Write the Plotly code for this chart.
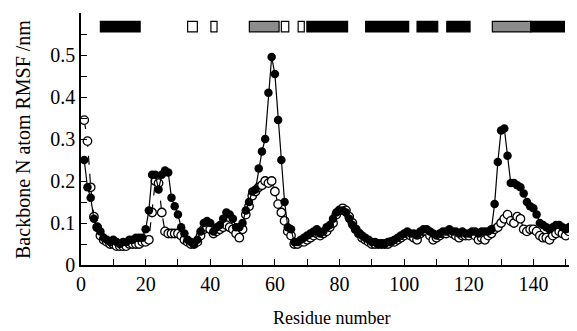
import plotly.graph_objects as go

residues = list(range(1, 153))

rmsf_filled = [
    0.25, 0.185, 0.16, 0.11, 0.09, 0.08, 0.065, 0.06, 0.055, 0.06,
    0.055, 0.05, 0.055, 0.055, 0.06, 0.06, 0.065, 0.065, 0.065, 0.085,
    0.13, 0.215, 0.215, 0.18, 0.215, 0.225, 0.22, 0.16, 0.14, 0.12,
    0.09, 0.075, 0.06, 0.055, 0.05, 0.06, 0.08, 0.1, 0.105, 0.1,
    0.08, 0.09, 0.095, 0.11, 0.125, 0.12, 0.11, 0.09, 0.09, 0.1,
    0.13, 0.15, 0.175, 0.18, 0.23, 0.27, 0.30, 0.41, 0.495, 0.455,
    0.345, 0.25, 0.15, 0.09, 0.085, 0.055, 0.055, 0.06, 0.065, 0.07,
    0.075, 0.08, 0.085, 0.075, 0.08, 0.09, 0.095, 0.11, 0.125, 0.13,
    0.13, 0.125, 0.11, 0.095, 0.085, 0.075, 0.07, 0.065, 0.06, 0.055,
    0.055, 0.05, 0.05, 0.05, 0.055, 0.055, 0.06, 0.065, 0.07, 0.075,
    0.08, 0.075, 0.075, 0.07, 0.08, 0.085, 0.085, 0.08, 0.075, 0.07,
    0.075, 0.08, 0.08, 0.085, 0.08, 0.08, 0.075, 0.08, 0.075, 0.075,
    0.08, 0.08, 0.075, 0.08, 0.08, 0.08, 0.085, 0.145, 0.245, 0.32,
    0.325, 0.26, 0.195, 0.195, 0.19, 0.185, 0.17, 0.15, 0.14, 0.135,
    0.12, 0.1, 0.095, 0.09, 0.085, 0.09, 0.095, 0.095, 0.09, 0.085,
    0.09, 0.095,
]

rmsf_open = [
    0.345, 0.295, 0.185, 0.115, 0.09, 0.07, 0.06, 0.055, 0.05, 0.05,
    0.045, 0.045, 0.045, 0.045, 0.05, 0.05, 0.05, 0.05, 0.055, 0.055,
    0.06, 0.125, 0.2, 0.195, 0.125, 0.08, 0.075, 0.075, 0.075, 0.075,
    0.07, 0.06, 0.055, 0.05, 0.05, 0.055, 0.07, 0.085, 0.09, 0.085,
    0.075, 0.08, 0.085, 0.09, 0.095, 0.09, 0.085, 0.075, 0.065, 0.085,
    0.12, 0.14, 0.165, 0.175, 0.185, 0.19, 0.2, 0.195, 0.2, 0.175,
    0.145, 0.125, 0.105, 0.08, 0.07, 0.05, 0.05, 0.055, 0.055, 0.06,
    0.065, 0.07, 0.075, 0.07, 0.075, 0.08, 0.09, 0.1, 0.12, 0.13,
    0.135, 0.13, 0.115, 0.1, 0.085, 0.075, 0.065, 0.06, 0.055, 0.05,
    0.05, 0.05, 0.05, 0.05, 0.05, 0.055, 0.055, 0.06, 0.065, 0.07,
    0.075, 0.07, 0.065, 0.06, 0.075, 0.08, 0.08, 0.07, 0.06, 0.065,
    0.07, 0.075, 0.075, 0.08, 0.075, 0.07, 0.065, 0.07, 0.07, 0.07,
    0.075, 0.07, 0.06, 0.065, 0.06, 0.07, 0.075, 0.085, 0.09, 0.1,
    0.11, 0.12, 0.105, 0.1, 0.115, 0.11, 0.085, 0.08, 0.085, 0.085,
    0.08, 0.07, 0.065, 0.065, 0.06, 0.07, 0.075, 0.08, 0.075, 0.07,
    0.08, 0.085,
]

# secondary-structure blocks: start, end, kind
ss_start = [6, 33, 40.2, 52.1, 62, 67.2, 69.9, 88.1, 104, 113.2, 127.3, 139.2]
ss_end = [18.3, 36, 42.1, 61.3, 64.3, 69.1, 82.5, 101.4, 110.4, 120.4, 139.2, 149.6]
ss_kind = ["helix", "open", "open", "gray", "open", "open", "helix", "helix",
           "helix", "helix", "gray", "helix"]
ss_y = [0.555, 0.58]

fill_map = {"helix": "black", "open": "white", "gray": "#8c8c8c"}

fig = go.Figure()

fig.add_trace(go.Scatter(
    x=residues, y=rmsf_open, mode="lines+markers",
    line=dict(color="black", width=1.2, dash="dash"),
    marker=dict(symbol="circle", size=8.5, color="white",
                line=dict(color="black", width=1.3)),
    showlegend=False,
))
fig.add_trace(go.Scatter(
    x=residues, y=rmsf_filled, mode="lines+markers",
    line=dict(color="black", width=1.2),
    marker=dict(symbol="circle", size=8.5, color="black",
                line=dict(color="black", width=0)),
    showlegend=False,
))

for s, e, k in zip(ss_start, ss_end, ss_kind):
    fig.add_shape(type="rect", xref="x", yref="y", x0=s, x1=e,
                  y0=ss_y[0], y1=ss_y[1], fillcolor=fill_map[k],
                  line=dict(color="black", width=1.2), layer="above")

font_family = "Liberation Serif, Times New Roman, serif"
# page body has an 8px default margin, so the figure is sized to fit the window
fig.update_layout(
    width=569, height=323,
    margin=dict(l=73, r=0, t=5, b=66, autoexpand=False),
    paper_bgcolor="white", plot_bgcolor="white",
    font=dict(family=font_family, size=20, color="black"),
    xaxis=dict(
        range=[0, 153.5], dtick=20, tick0=0,
        ticks="inside", ticklen=6, tickwidth=1, tickcolor="black",
        minor=dict(dtick=10, ticks="inside", ticklen=6, tickwidth=1, tickcolor="black"),
        showline=True, linecolor="black", linewidth=1.5,
        showgrid=False, zeroline=False, automargin=False,
        tickfont=dict(size=20, family=font_family),
    ),
    yaxis=dict(
        range=[0, 0.6],
        tickvals=[0, 0.1, 0.2, 0.3, 0.4, 0.5],
        ticktext=["0", "0.1", "0.2", "0.3", "0.4", "0.5"],
        ticks="inside", ticklen=6, tickwidth=1, tickcolor="black",
        minor=dict(dtick=0.05, tick0=0, ticks="inside", ticklen=6, tickwidth=1, tickcolor="black"),
        showline=True, linecolor="black", linewidth=1.5,
        showgrid=False, zeroline=False, automargin=False,
        tickfont=dict(size=20, family=font_family),
    ),
    annotations=[
        dict(text="Residue number", xref="paper", yref="paper",
             x=0.506, y=-0.21, xanchor="center", yanchor="middle",
             showarrow=False, font=dict(size=18, family=font_family)),
        dict(text="Backbone N atom RMSF /nm", xref="paper", yref="paper",
             x=-0.117, y=0.5, xanchor="center", yanchor="middle", textangle=-90,
             showarrow=False, font=dict(size=20, family=font_family)),
    ],
)

fig.write_html("out.html")
